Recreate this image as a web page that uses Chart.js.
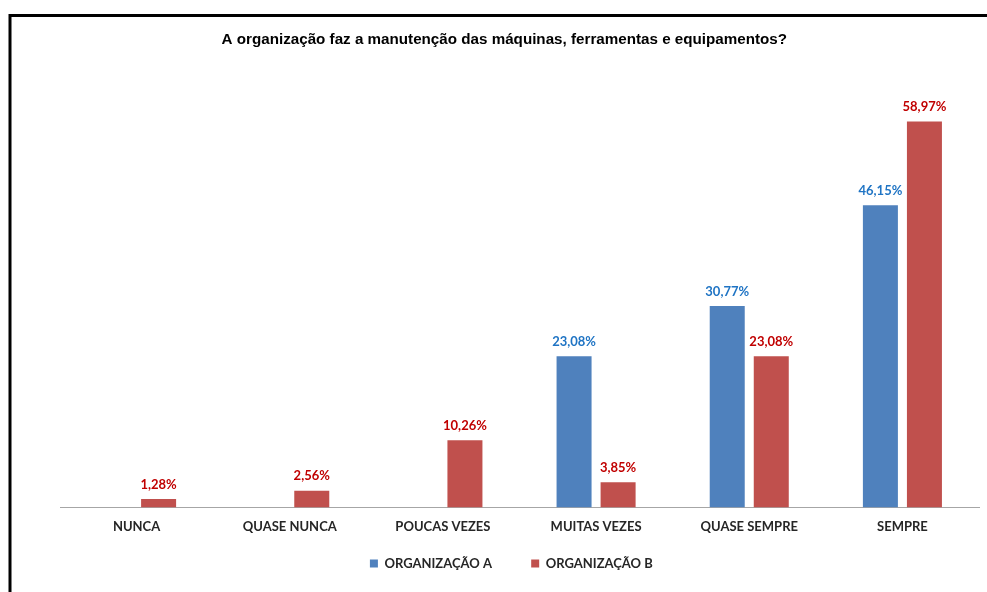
<!DOCTYPE html>
<html>
<head>
<meta charset="utf-8">
<script src="https://cdn.jsdelivr.net/npm/chart.js@4.4.0/dist/chart.umd.min.js"></script>
<style>
  html, body { margin: 0; padding: 0; background: #fff; }
  #wrap { width: 987px; height: 592px; position: relative; }
</style>
</head>
<body>
<div id="wrap"><canvas id="chart" width="987" height="592"></canvas></div>
<script>
// data
const categories = ['NUNCA', 'QUASE NUNCA', 'POUCAS VEZES', 'MUITAS VEZES', 'QUASE SEMPRE', 'SEMPRE'];
const orgA = [null, null, null, 23.08, 30.77, 46.15];
const orgB = [1.28, 2.56, 10.26, 3.85, 23.08, 58.97];
const seriesNames = ['ORGANIZAÇÃO A', 'ORGANIZAÇÃO B'];
const titleText = 'A organização faz a manutenção das máquinas, ferramentas e equipamentos?';

const labelFont = "'Lato', 'Open Sans', sans-serif";

// frame lines (left + top) like the original screenshot
const framePlugin = {
  id: 'frame',
  beforeDraw(chart) {
    const ctx = chart.ctx;
    ctx.save();
    ctx.fillStyle = '#fff';
    ctx.fillRect(0, 0, chart.width, chart.height);
    ctx.strokeStyle = '#000';
    ctx.lineWidth = 3;
    ctx.beginPath();
    ctx.moveTo(10, chart.height + 5);
    ctx.lineTo(10, 15.5);
    ctx.lineTo(chart.width + 5, 15.5);
    ctx.stroke();
    ctx.restore();
  }
};

// value labels on top of each bar
const valueLabels = {
  id: 'valueLabels',
  afterDatasetsDraw(chart) {
    const ctx = chart.ctx;
    ctx.save();
    ctx.font = "bold 13px " + labelFont;
    ctx.textAlign = 'center';
    ctx.textBaseline = 'bottom';
    chart.data.datasets.forEach(function (ds, i) {
      const meta = chart.getDatasetMeta(i);
      ctx.fillStyle = ds.labelColor;
      meta.data.forEach(function (bar, j) {
        const v = ds.data[j];
        if (v == null) return;
        ctx.fillText(v.toFixed(2).replace('.', ',') + '%', bar.x, bar.y - 8);
      });
    });
    ctx.restore();
  }
};

new Chart(document.getElementById('chart'), {
  type: 'bar',
  data: {
    labels: categories,
    datasets: [
      { label: seriesNames[0], data: orgA, backgroundColor: '#4F81BD', labelColor: '#1F74C4' },
      { label: seriesNames[1], data: orgB, backgroundColor: '#C0504D', labelColor: '#C00000' }
    ]
  },
  options: {
    responsive: false,
    animation: false,
    categoryPercentage: 0.575,
    barPercentage: 0.795,
    layout: { padding: { left: 60, right: 8, top: 0, bottom: 12 } },
    scales: {
      x: {
        grid: { display: false, drawTicks: false },
        border: { display: true, color: '#A6A6A6', width: 1 },
        ticks: { color: '#262626', font: { family: labelFont, size: 13, weight: 'bold' }, padding: 12, maxRotation: 0 }
      },
      y: {
        display: false,
        min: 0,
        max: 70
      }
    },
    plugins: {
      title: {
        display: true,
        // trailing spaces pull the centred title a bit left, like the original
        text: titleText + '\u2003\u2003',
        color: '#000',
        font: { family: "'Liberation Sans Narrow', 'Arial Narrow', 'Liberation Sans', sans-serif", size: 15.2, weight: 'bold', lineHeight: 1.2 },
        padding: { top: 31, bottom: 0 }
      },
      legend: {
        position: 'bottom',
        labels: {
          color: '#262626',
          boxWidth: 8,
          boxHeight: 8,
          padding: 10,
          font: { family: labelFont, size: 13, weight: 'bold' },
          generateLabels(chart) {
            // wider gap between the two entries, as in the original
            return chart.data.datasets.map(function (ds, i) {
              return {
                text: i === 0 ? ds.label + '\u2003\u2003\u2002 ' : ds.label + '\u2003\u2002',
                fillStyle: ds.backgroundColor,
                strokeStyle: ds.backgroundColor,
                lineWidth: 0,
                fontColor: '#262626',
                hidden: false,
                datasetIndex: i
              };
            });
          }
        }
      },
      tooltip: { enabled: false }
    }
  },
  plugins: [framePlugin, valueLabels]
});
</script>
</body>
</html>
